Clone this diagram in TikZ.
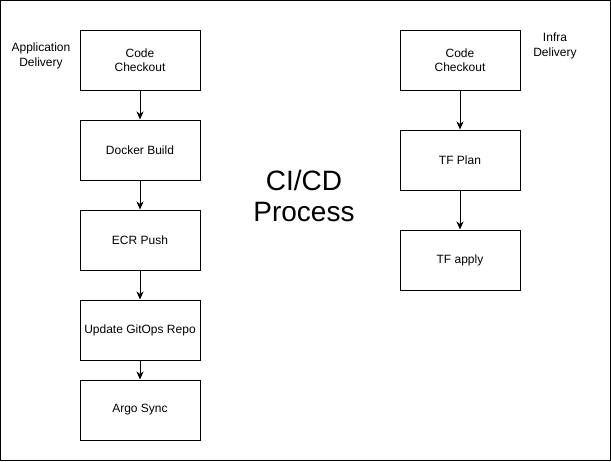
\documentclass[tikz,border=0pt]{standalone}
\usepackage{fontspec}
\setmainfont{Liberation Sans}
\usetikzlibrary{arrows.meta}
\begin{document}
\begin{tikzpicture}[x=1pt,y=-1pt,
  stepbox/.style={draw=black,line width=1pt,minimum width=120pt,minimum height=60pt,inner sep=0pt,align=center,font=\fontsize{12}{14.4}\selectfont},
  lbl/.style={align=center,font=\fontsize{12}{14.4}\selectfont,inner sep=0pt},
  flow/.style={line width=1pt,-{Stealth[length=8pt,width=7pt,inset=2.5pt]}}]
\useasboundingbox (0,0) rectangle (611,461);
\draw[line width=1pt] (0.5,0.5) rectangle (610,460);
% left column
\node[stepbox] (a1) at (140,60) {Code\\Checkout};
\node[stepbox] (a2) at (140,150) {Docker Build};
\node[stepbox] (a3) at (140,240) {ECR Push};
\node[stepbox] (a4) at (140,330) {Update GitOps Repo};
\node[stepbox] (a5) at (140,410) {Argo Sync};
% right column
\node[stepbox] (b1) at (460,60) {Code\\Checkout};
\node[stepbox] (b2) at (460,160) {TF Plan};
\node[stepbox] (b3) at (460,260) {TF apply};
% labels
\node[lbl] (la) at (41,56) {Application\\Delivery};
\node[lbl] (lb) at (555,46) {Infra\\Delivery};
\node[align=center,inner sep=0pt,font=\fontsize{28}{31}\selectfont] (title) at (304,196) {CI/CD\\Process};
% connectors
\draw[flow] (a1) -- (a2);
\draw[flow] (a2) -- (a3);
\draw[flow] (a3) -- (a4);
\draw[flow] (a4) -- (a5);
\draw[flow] (b1) -- (b2);
\draw[flow] (b2) -- (b3);
\end{tikzpicture}
\end{document}
